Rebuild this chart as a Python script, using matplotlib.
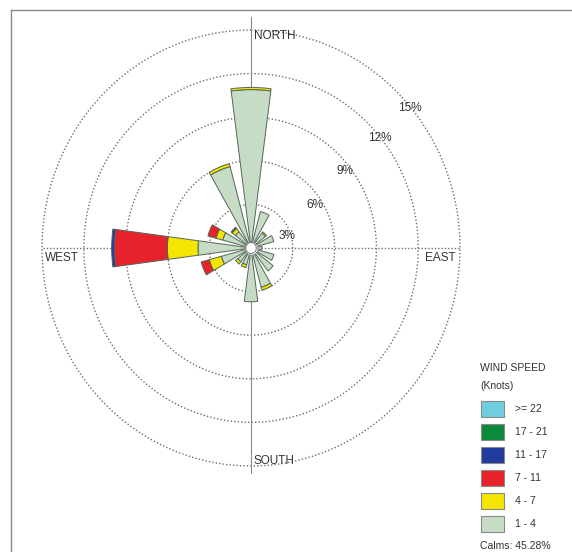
import numpy as np
import matplotlib
matplotlib.use("Agg")
import matplotlib.pyplot as plt
from matplotlib.patches import Rectangle
from matplotlib.lines import Line2D

plt.rcParams["font.family"] = ["Liberation Sans", "DejaVu Sans"]

# 16 compass sectors, clockwise from north
directions = ["N", "NNE", "NE", "ENE", "E", "ESE", "SE", "SSE",
              "S", "SSW", "SW", "WSW", "W", "WNW", "NW", "NNW"]

# frequency (%) per speed class
speed_1_4   = [10.9, 2.6, 1.3, 1.7, 0.8, 1.7, 2.0, 2.8, 3.7, 1.2, 1.2, 2.2, 3.8, 2.1, 1.4, 5.8]
speed_4_7   = [0.15, 0.0, 0.1, 0.0, 0.0, 0.0, 0.0, 0.2, 0.0, 0.2, 0.2, 0.9, 2.2, 0.5, 0.3, 0.2]
speed_7_11  = [0.0, 0.0, 0.0, 0.0, 0.0, 0.0, 0.0, 0.0, 0.0, 0.0, 0.0, 0.6, 3.8, 0.6, 0.0, 0.0]
speed_11_17 = [0.0, 0.0, 0.0, 0.0, 0.0, 0.0, 0.0, 0.0, 0.0, 0.0, 0.0, 0.0, 0.2, 0.0, 0.1, 0.0]
speed_17_21 = [0.0] * 16
speed_22    = [0.0] * 16

class_labels = ["1 - 4", "4 - 7", "7 - 11", "11 - 17", "17 - 21", ">= 22"]
class_colors = ["#c7dcc5", "#f4e600", "#e8222a", "#213a9e", "#0c8a3c", "#6fcfe0"]
class_values = [speed_1_4, speed_4_7, speed_7_11, speed_11_17, speed_17_21, speed_22]

rings = [3, 6, 9, 12, 15]
ring_labels = ["3%", "6%", "9%", "12%", "15%"]
calms = "Calms: 45.28%"

fig = plt.figure(figsize=(5.72, 5.52), dpi=100)

# frame lines of the original page
fig.add_artist(Line2D([11 / 572, 1], [1 - 10 / 552, 1 - 10 / 552], color="#8a8a8a", lw=1.0))
fig.add_artist(Line2D([11 / 572, 11 / 572], [0, 1 - 10 / 552], color="#8a8a8a", lw=1.0))

# rose is slightly taller than wide in the original
ax = fig.add_axes([42 / 572, 86 / 552, 418 / 572, 436 / 552], projection="polar")
ax.set_theta_zero_location("N")
ax.set_theta_direction(-1)
ax.set_ylim(0, 15)
ax.set_aspect("auto")
ax.set_axis_off()

th = np.linspace(0, 2 * np.pi, 500)
for r in rings:
    ax.plot(th, np.full_like(th, r), color="#6e6e6e", lw=1.0, ls=(0, (1, 1.5)),
            zorder=1, clip_on=False)

# axis lines: solid N-S, dotted W-E
ax.plot([0, 0], [0, 15.9], color="#8a8a8a", lw=0.8, zorder=1, clip_on=False)
ax.plot([np.pi, np.pi], [0, 15.5], color="#8a8a8a", lw=0.8, zorder=1, clip_on=False)
ax.plot([np.pi / 2, np.pi / 2], [0, 15], color="#6e6e6e", lw=1.0, ls=(0, (1, 1.4)), zorder=1)
ax.plot([3 * np.pi / 2, 3 * np.pi / 2], [0, 15], color="#6e6e6e", lw=1.0, ls=(0, (1, 1.4)), zorder=1)

theta = np.radians(np.arange(16) * 22.5)
width = np.radians(15)
bottom = np.zeros(16)
for vals, col in zip(class_values, class_colors):
    vals = np.array(vals)
    m = vals > 0
    if m.any():
        ax.bar(theta[m], vals[m], width=width, bottom=bottom[m], color=col,
               edgecolor="#56655a", lw=0.7, zorder=3)
    bottom += vals

# calm circle
ax.fill_between(th, 0, 0.38, color="white", zorder=5)
ax.plot(th, np.full_like(th, 0.38), color="#777777", lw=0.7, zorder=6)

# ring labels
lab_theta = [72, 57, 52, 50.7, 49.8]
lab_r = [2.7, 5.45, 8.55, 11.95, 14.95]
for t, r, s in zip(lab_theta, lab_r, ring_labels):
    ax.text(np.radians(t), r, s, fontsize=8.5, color="#333333", ha="center", va="center", zorder=7)

kw = dict(textcoords="offset pixels", fontsize=8.5, color="#333333", va="center", annotation_clip=False)
ax.annotate("NORTH", xy=(0, 15), xytext=(3, -6), ha="left", **kw)
ax.annotate("WEST", xy=(3 * np.pi / 2, 15), xytext=(3, -10), ha="left", **kw)
ax.annotate("EAST", xy=(np.pi / 2, 15), xytext=(-4, -10), ha="right", **kw)
ax.annotate("SOUTH", xy=(np.pi, 15), xytext=(3, 5), ha="left", **kw)

# legend drawn by hand, top entry first
W, H = 572, 552
fig.text(480 / W, 1 - 368 / H, "WIND SPEED", fontsize=7.5, color="#333333", va="center")
fig.text(480 / W, 1 - 386 / H, "(Knots)", fontsize=7.5, color="#333333", va="center")
for i, (lab, col) in enumerate(zip(class_labels[::-1], class_colors[::-1])):
    yc = 409 + i * 23
    fig.add_artist(Rectangle((481 / W, 1 - (yc + 8) / H), 23 / W, 16 / H,
                             facecolor=col, edgecolor="#8a8a8a", lw=0.8))
    fig.text(515 / W, 1 - yc / H, lab, fontsize=7.5, color="#333333", va="center")
fig.text(480 / W, 1 - 546 / H, calms, fontsize=7.5, color="#333333", va="center")

fig.savefig("out.png", dpi=100)
